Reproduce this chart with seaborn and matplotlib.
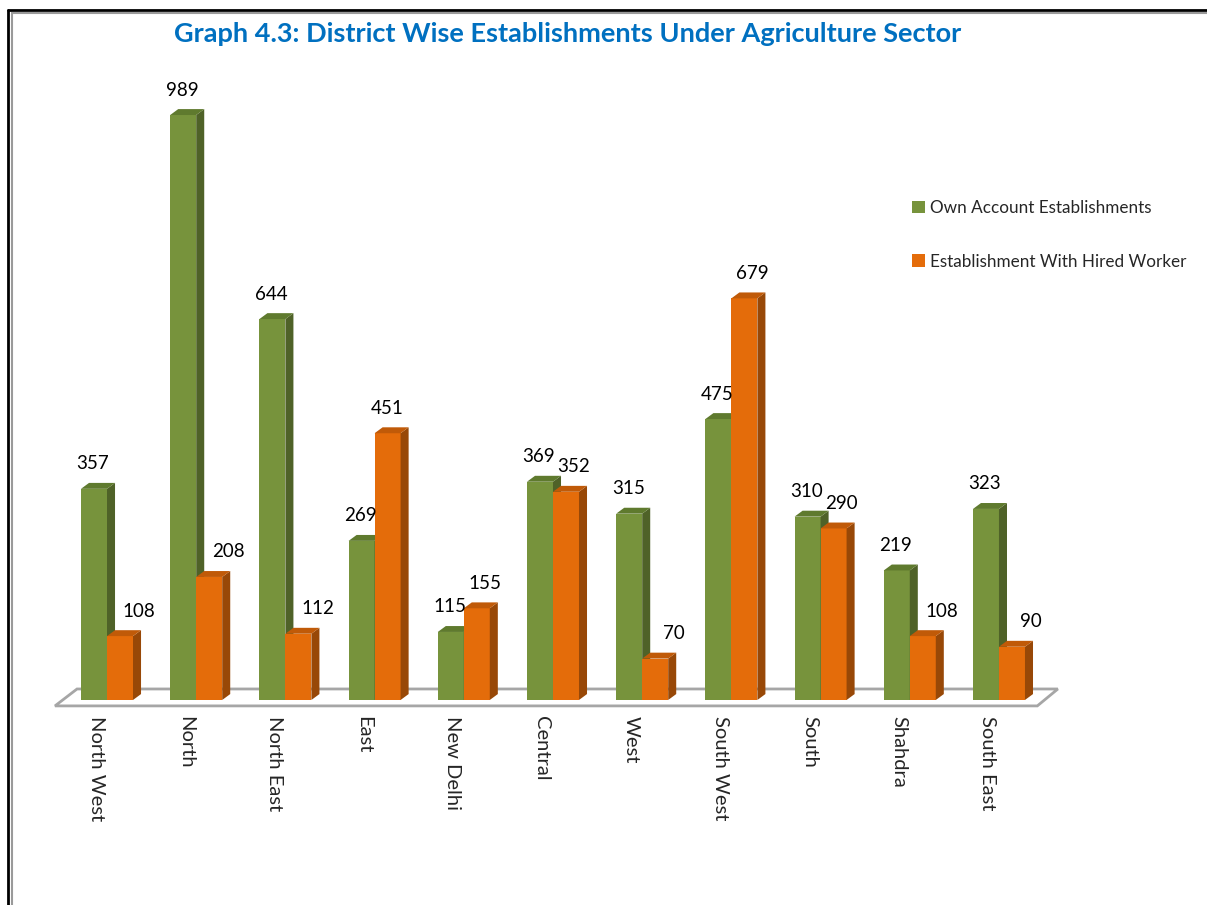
import numpy as np
import pandas as pd
import seaborn as sns
import matplotlib.pyplot as plt
from matplotlib.patches import Polygon, Patch
from matplotlib.lines import Line2D
from matplotlib.transforms import ScaledTranslation

districts = ["North West", "North", "North East", "East", "New Delhi", "Central",
             "West", "South West", "South", "Shahdra", "South East"]
own_account = [357, 989, 644, 269, 115, 369, 315, 475, 310, 219, 323]
hired_worker = [108, 208, 112, 451, 155, 352, 70, 679, 290, 108, 90]
series_names = ["Own Account Establishments", "Establishment With Hired Worker"]

# front / side / top colours for each series
front_cols = ["#77933C", "#E46C0A"]
side_cols = ["#4F6228", "#984807"]
top_cols = ["#5F7A2E", "#C05A08"]

df = pd.DataFrame({
    "District": districts * 2,
    "Count": own_account + hired_worker,
    "Type": [series_names[0]] * len(districts) + [series_names[1]] * len(districts),
})

sns.set_style("white")
plt.rcParams["font.family"] = ["Lato", "DejaVu Sans"]

fig = plt.figure(figsize=(12.07, 9.05), dpi=100)
ax = fig.add_axes([0.0517, 0.2102, 0.8129, 0.7222])

sns.barplot(data=df, x="District", y="Count", hue="Type", palette=front_cols,
            width=0.583, gap=0, saturation=1, ax=ax, legend=False)

ax.set_xlim(-0.5, 10.5)
ax.set_ylim(-25, 1080)

# 3d look: depth offset in data units
dx, dy = 0.09, 10
for k, cont in enumerate(ax.containers):
    zb = 2 + 2 * k
    for bar in cont:
        x0 = bar.get_x()
        w = bar.get_width()
        h = bar.get_height()
        bar.set_zorder(zb)
        bar.set_edgecolor("none")
        side = Polygon([(x0 + w, 0), (x0 + w + dx, dy), (x0 + w + dx, h + dy), (x0 + w, h)],
                       closed=True, facecolor=side_cols[k], edgecolor="none", zorder=zb + 0.5)
        top = Polygon([(x0, h), (x0 + dx, h + dy), (x0 + w + dx, h + dy), (x0 + w, h)],
                      closed=True, facecolor=top_cols[k], edgecolor="none", zorder=zb + 0.6)
        ax.add_patch(side)
        ax.add_patch(top)

# value labels (orange ones pushed right when they would run into the green bar/label)
for i in range(len(districts)):
    g = own_account[i]
    o = hired_worker[i]
    gbar = ax.containers[0][i]
    obar = ax.containers[1][i]
    ax.annotate(str(g), (gbar.get_x() + gbar.get_width() / 2, g), xytext=(-1, 25),
                textcoords="offset pixels", ha="center", va="center", fontsize=13.5,
                color="black", zorder=10)
    if o < 0.8 * g:
        shift = 19
    elif o < 1.5 * g:
        shift = 8
    else:
        shift = 0
    ax.annotate(str(o), (obar.get_x() + obar.get_width() / 2, o), xytext=(shift, 25),
                textcoords="offset pixels", ha="center", va="center", fontsize=13.5,
                color="black", zorder=10)

# floor
floor = Polygon([(-0.583, -10), (10.43, -10), (10.66, 18.6), (-0.336, 18.6)], closed=True,
                facecolor="white", edgecolor="#A6A6A6", linewidth=2, zorder=1, clip_on=False)
ax.add_patch(floor)

for s in ax.spines.values():
    s.set_visible(False)
ax.set_yticks([])
ax.set_xlabel("")
ax.set_ylabel("")
ax.tick_params(axis="x", length=0, pad=1, labelsize=14.5)
plt.setp(ax.get_xticklabels(), rotation=270, va="top", ha="center")
for lab in ax.get_xticklabels():
    lab.set_transform(lab.get_transform() + ScaledTranslation(-0.11, 0, fig.dpi_scale_trans))

handles = [Patch(facecolor=c, edgecolor="none") for c in front_cols]
fig.legend(handles, series_names, loc="upper left", bbox_to_anchor=(0.756, 0.779),
           frameon=False, fontsize=12.3, handlelength=0.75, handleheight=0.75,
           handletextpad=0.3, labelspacing=2.2, borderpad=0, borderaxespad=0)

fig.text(0.47, 0.962, "Graph 4.3: District Wise Establishments Under Agriculture Sector",
         ha="center", va="center", fontsize=19.5, fontweight="bold", color="#0070C0")

# page border lines
fig.add_artist(Line2D([8 / 1207, 8 / 1207], [0, 1 - 10 / 905], color="black", lw=2))
fig.add_artist(Line2D([8 / 1207, 1], [1 - 10 / 905, 1 - 10 / 905], color="black", lw=2))
fig.add_artist(Line2D([12 / 1207, 12 / 1207], [0, 1 - 13 / 905], color="#9A9A9A", lw=1.5))
fig.add_artist(Line2D([12 / 1207, 1], [1 - 13 / 905, 1 - 13 / 905], color="#9A9A9A", lw=1.5))

fig.savefig("out.png", dpi=100)
